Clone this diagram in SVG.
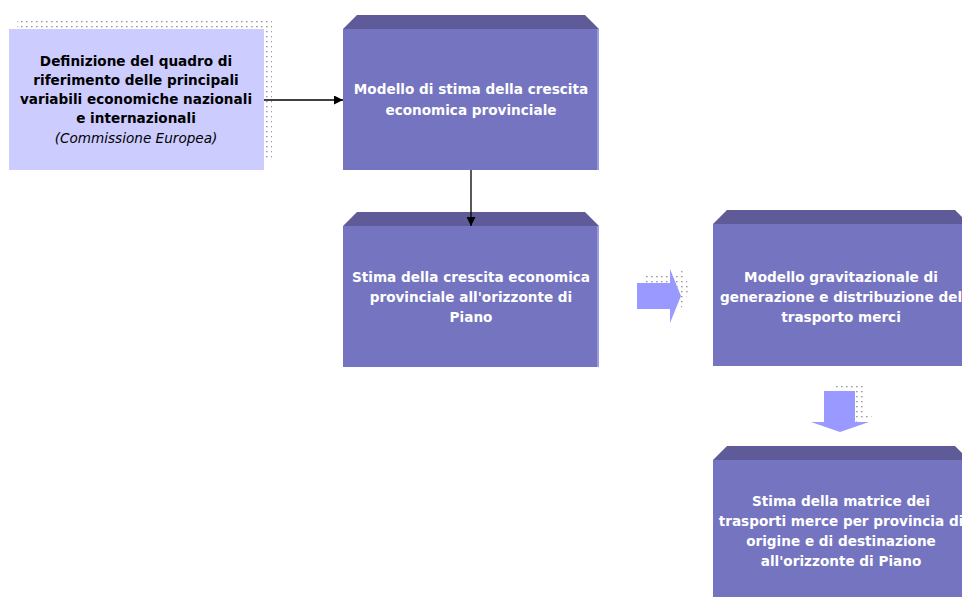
<svg xmlns="http://www.w3.org/2000/svg" width="962" height="597" viewBox="0 0 962 597">
  <defs>
    <pattern id="dots" x="0" y="0" width="5" height="5" patternUnits="userSpaceOnUse">
      <rect x="1" y="1" width="1.6" height="1.3" fill="#9a9a9a"/>
    </pattern>
    <marker id="arrow" viewBox="0 0 10 10" refX="10" refY="5" markerWidth="10" markerHeight="9" markerUnits="userSpaceOnUse" orient="auto">
      <path d="M0,0 L10,5 L0,10 z" fill="#000"/>
    </marker>
  </defs>
  <style>
    .front { fill: #7474c0; }
    .top { fill: #5e5b98; }
    .edge { fill: #9a9ae4; }
    .light { fill: #ccccff; }
    .shade { fill: url(#dots); }
    .block { fill: #9999ff; }
    .t { font-family: "DejaVu Sans", Verdana, sans-serif; font-weight: bold; font-size: 13.6px; text-anchor: middle; }
    .w { fill: #ffffff; }
    .k { fill: #000000; }
    .i { font-weight: normal; font-style: italic; }
    .conn { stroke: #000; stroke-width: 1.3; fill: none; }
  </style>

  <rect width="962" height="597" fill="#ffffff"/>

  <!-- input box with dotted drop shade -->
  <g id="quadro">
    <rect class="shade" x="17" y="19" width="255" height="142"/>
    <rect class="light" x="9" y="29" width="255" height="141"/>
    <text class="t k" x="136" y="66">Definizione del quadro di</text>
    <text class="t k" x="136" y="85">riferimento delle principali</text>
    <text class="t k" x="136" y="104">variabili economiche nazionali</text>
    <text class="t k" x="136" y="123">e internazionali</text>
    <text class="t k i" x="136" y="143">(Commissione Europea)</text>
  </g>

  <g id="modello-stima">
    <polygon class="top" points="343,29 357,15 585,15 599,29"/>
    <rect class="front" x="343" y="29" width="256" height="141"/>
    <rect class="edge" x="597" y="29" width="2" height="141"/>
    <text class="t w" x="471" y="94">Modello di stima della crescita</text>
    <text class="t w" x="471" y="115">economica provinciale</text>
  </g>

  <g id="stima-crescita">
    <polygon class="top" points="343,226 357,212 585,212 599,226"/>
    <rect class="front" x="343" y="226" width="256" height="141"/>
    <rect class="edge" x="597" y="226" width="2" height="141"/>
    <text class="t w" x="471" y="282">Stima della crescita economica</text>
    <text class="t w" x="471" y="302">provinciale all'orizzonte di</text>
    <text class="t w" x="471" y="322">Piano</text>
  </g>

  <g id="modello-gravitazionale">
    <polygon class="top" points="713,224 727,210 955,210 969,224"/>
    <rect class="front" x="713" y="224" width="256" height="142"/>
    <text class="t w" x="841" y="282">Modello gravitazionale di</text>
    <text class="t w" x="841" y="302">generazione e distribuzione del</text>
    <text class="t w" x="841" y="322">trasporto merci</text>
  </g>

  <g id="matrice">
    <polygon class="top" points="713,460 727,446 955,446 969,460"/>
    <rect class="front" x="713" y="460" width="256" height="140"/>
    <text class="t w" x="841" y="506">Stima della matrice dei</text>
    <text class="t w" x="841" y="526">trasporti merce per provincia di</text>
    <text class="t w" x="841" y="546">origine e di destinazione</text>
    <text class="t w" x="841" y="566">all'orizzonte di Piano</text>
  </g>

  <g id="connectors">
    <line class="conn" x1="264" y1="100" x2="343" y2="100" marker-end="url(#arrow)"/>
    <line class="conn" x1="471" y1="170" x2="471" y2="226" marker-end="url(#arrow)"/>
    <!-- block arrow pointing right, with dotted shade -->
    <polygon class="shade" points="646,275 678,275 678,261 690,288 678,316 678,302 646,302"/>
    <polygon class="block" points="637,283 670,283 670,269 681,296 670,323 670,309 637,309"/>
    <!-- block arrow pointing down, with dotted shade -->
    <polygon class="shade" points="835,385 863,385 863,414 879,414 849,424"/>
    <polygon class="block" points="824,391 855,391 855,422 869,422 840,432 811,422 824,422"/>
  </g>
</svg>
